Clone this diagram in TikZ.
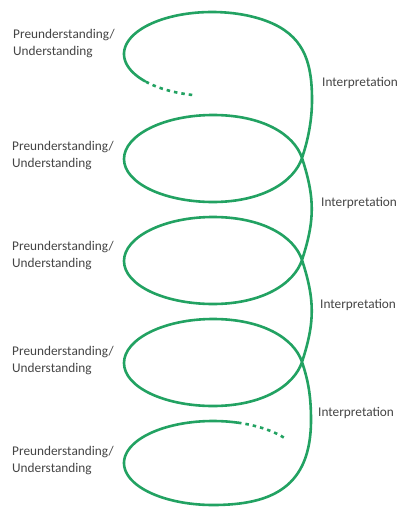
\documentclass[tikz,border=0pt]{standalone}
\usepackage{fontspec}
\setmainfont{Carlito}
\definecolor{spiral}{RGB}{34,162,98}
\definecolor{txt}{RGB}{68,68,68}
\begin{document}
\begin{tikzpicture}[x=1pt,y=-1pt,
  lbl/.style={anchor=west,inner sep=0pt,align=left,text=txt,font=\fontsize{13.3}{17}\selectfont},
  spiralline/.style={draw=spiral,line width=2.6pt,line cap=round,line join=round},
  spiraldash/.style={draw=spiral,line width=2.6pt,dash pattern=on 3.5pt off 4pt}]
\useasboundingbox (0,0) rectangle (398,508);
% dashed beginning of top loop
\draw[spiraldash] plot[domain=103:139.6,samples=30,variable=\t]
  ({212+88*cos(\t)},{54+42*sin(\t)});
% main spiral
\draw[spiralline]
  plot[domain=139.6:315,samples=80,variable=\t] ({212+88*cos(\t)},{54+42*sin(\t)})
  .. controls (305.3,39.2) and (312,65) .. (312,100)
  .. controls (312,125) and (306,146) .. (302,158)
  % loop 2
  .. controls (294,182) and (262,202) .. (213,202)
  .. controls (164,202) and (124,183) .. (124,159)
  .. controls (124,135) and (164,115) .. (213,115)
  .. controls (262,115) and (294,134) .. (302,158)
  .. controls (315,198) and (315,220) .. (302,260)
  % loop 3
  .. controls (294,284) and (262,304) .. (213,304)
  .. controls (164,304) and (124,285) .. (124,261)
  .. controls (124,237) and (164,217) .. (213,217)
  .. controls (262,217) and (294,236) .. (302,260)
  .. controls (315,300) and (315,322) .. (302,362)
  % loop 4
  .. controls (294,386) and (262,406) .. (213,406)
  .. controls (164,406) and (124,387) .. (124,363)
  .. controls (124,339) and (164,319) .. (213,319)
  .. controls (262,319) and (294,338) .. (302,362)
  % last turn
  .. controls (308,380) and (311,395) .. (311,420)
  .. controls (311,487) and (272,505) .. (213,505)
  -- plot[domain=90:286.3,samples=80,variable=\t] ({213+89*cos(\t)},{463+42*sin(\t)});
% dashed end of bottom loop
\draw[spiraldash] plot[domain=286.3:326.2,samples=30,variable=\t]
  ({213+89*cos(\t)},{463+42*sin(\t)});
% labels
\node[lbl] (p1) at (13,44) {Preunderstanding/\\Understanding};
\node[lbl] (p2) at (12,156) {Preunderstanding/\\Understanding};
\node[lbl] (p3) at (12,256) {Preunderstanding/\\Understanding};
\node[lbl] (p4) at (12,361) {Preunderstanding/\\Understanding};
\node[lbl] (p5) at (12,461) {Preunderstanding/\\Understanding};
\node[lbl] (i1) at (322,83) {Interpretation};
\node[lbl] (i2) at (321,203) {Interpretation};
\node[lbl] (i3) at (320,305) {Interpretation};
\node[lbl] (i4) at (318,413) {Interpretation};
\end{tikzpicture}
\end{document}
